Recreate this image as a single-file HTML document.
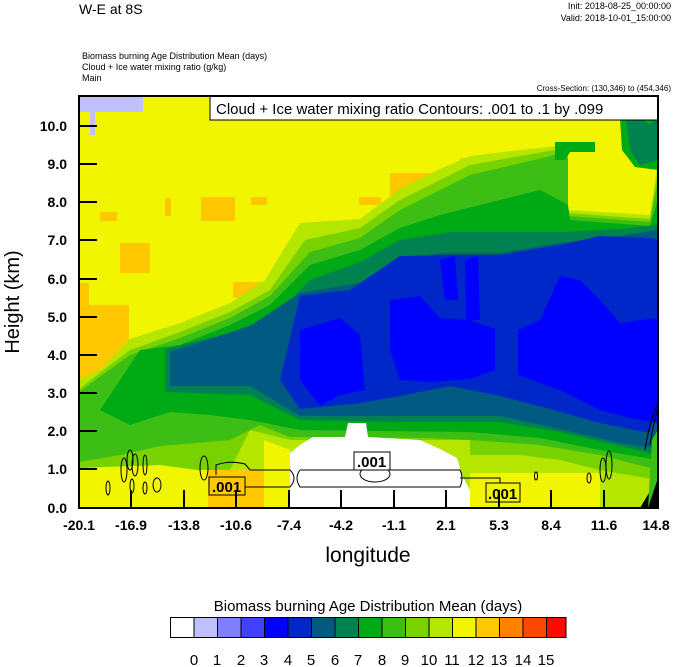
<!DOCTYPE html>
<html><head><meta charset="utf-8"><style>
body{margin:0;background:#fff;width:674px;height:667px;overflow:hidden}
svg{display:block;font-family:"Liberation Sans",Arial,sans-serif}
</style></head><body>
<svg width="674" height="667" viewBox="0 0 674 667" xmlns="http://www.w3.org/2000/svg">
<text x="79" y="14" font-size="14">W-E at 8S</text>
<text x="671" y="9" font-size="9" text-anchor="end">Init: 2018-08-25_00:00:00</text>
<text x="671" y="21" font-size="9" text-anchor="end">Valid: 2018-10-01_15:00:00</text>
<text x="82" y="59" font-size="9">Biomass burning Age Distribution Mean   (days)</text>
<text x="82" y="70" font-size="9">Cloud + Ice water mixing ratio   (g/kg)</text>
<text x="82" y="81" font-size="9">Main</text>
<text x="671" y="91" font-size="8" text-anchor="end">Cross-Section: (130,346) to (454,346)</text>

<defs><clipPath id="pc"><rect x="79" y="96" width="579" height="412"/></clipPath></defs>
<g clip-path="url(#pc)">
<rect x="79" y="96" width="579" height="412" fill="#f2f500"/>
<g fill="#ffc800">
<rect x="79" y="283" width="10" height="96"/><rect x="79" y="305" width="50" height="80"/>
<rect x="120" y="243" width="30" height="30"/><rect x="165" y="198" width="6" height="18"/>
<rect x="100" y="212" width="17" height="9"/><rect x="201" y="197" width="34" height="24"/>
<rect x="251" y="197" width="16" height="8"/><rect x="233" y="282" width="43" height="16"/>
<rect x="390" y="173" width="42" height="23"/><rect x="460" y="158" width="50" height="8"/>
<rect x="468" y="158" width="10" height="32"/><rect x="359" y="197" width="22" height="8"/>
<rect x="208" y="469" width="56" height="40"/>
</g>
<rect x="79" y="96" width="64" height="16" fill="#c0c0ff"/><rect x="90" y="110" width="5" height="25" fill="#c0c0ff"/>
<path fill="#b4e600" d="M79,379 L100,370 L130,339 L180,323 L230,303 L265,280 L300,223 L360,219 L400,189 L440,169 L470,156 L555,146 L568,148 L568,210 L650,215 L658,160 L658,508 L600,508 L600,473 L470,473 L470,508 L290,508 L290,450 L264,440 L264,469 L197,469 L197,430 L79,470 Z"/>
<path fill="#78d200" d="M79,389 L130,350 L180,332 L230,312 L270,290 L305,240 L360,228 L400,200 L440,180 L470,165 L555,150 L568,152 L568,213 L650,219 L658,170 L658,480 L600,470 L560,460 L520,455 L470,455 L470,440 L290,440 L250,430 L230,470 L197,470 L160,465 L79,468 Z"/>
<path fill="#3cbe14" d="M79,392 L130,355 L180,338 L230,318 L270,296 L310,252 L360,238 L400,210 L440,190 L470,175 L555,155 L568,158 L568,216 L650,222 L658,180 L658,470 L600,455 L540,445 L470,440 L430,438 L290,437 L260,425 L230,440 L160,446 L120,455 L79,462 Z"/>
<path fill="#00aa14" d="M100,410 L140,350 L180,345 L230,325 L270,305 L310,265 L360,250 L400,228 L440,215 L480,205 L540,190 L568,205 L570,220 L650,226 L658,200 L658,460 L600,450 L540,438 L470,432 L300,430 L250,420 L210,415 L170,412 L130,425 Z"/>
<path fill="#008250" d="M165,349 L230,333 L275,315 L310,280 L360,262 L400,240 L450,232 L520,232 L560,232 L620,229 L658,225 L658,455 L620,446 L560,432 L500,422 L400,422 L300,420 L250,395 L165,392 Z"/>
<path fill="#005a82" d="M170,352 L250,326 L300,293 L360,283 L400,263 L440,253 L500,253 L560,243 L620,236 L658,230 L658,449 L620,443 L560,429 L500,416 L400,416 L300,416 L250,386 L170,386 Z"/>
<path fill="#008250" d="M625,270 L645,258 L658,255 L658,320 L640,322 L625,310 Z"/>
<path fill="#0028c8" d="M300,296 L350,290 L400,256 L450,255 L500,255 L560,245 L600,236 L650,238 L658,240 L658,396 L650,433 L600,423 L550,409 L500,396 L450,386 L400,396 L360,403 L300,409 L280,380 Z"/>
<g fill="#0000ff">
<path d="M300,330 L340,318 L360,335 L365,390 L340,395 L320,406 L300,380 Z"/>
<path d="M390,300 L420,296 L440,318 L470,320 L495,329 L495,370 L470,379 L430,382 L400,380 L390,350 Z"/>
<path d="M440,260 L455,256 L458,300 L445,300 Z"/><path d="M465,260 L478,256 L480,320 L466,320 Z"/>
<path d="M518,330 L540,320 L560,276 L580,280 L600,300 L620,323 L640,320 L658,318 L658,423 L630,418 L600,410 L560,390 L518,375 Z"/>
<rect x="341" y="345" width="9" height="25"/>
</g>
<path fill="#00aa14" d="M620,118 L630,110 L658,108 L658,170 L635,167 L622,150 Z"/>
<path fill="#008250" d="M626,120 L640,118 L650,125 L658,115 L658,160 L640,165 L630,150 Z"/>
<path fill="#00aa14" d="M555,142 L595,142 L595,152 L570,152 L565,160 L555,160 Z"/>
<path fill="#fff" d="M290,508 L290,453 L300,445 L313,437 L345,437 L348,423 L366,423 L368,437 L420,440 L440,449 L457,458 L462,475 L470,490 L470,508 Z"/>
<path fill="#000" d="M640,508 L658,478 L658,508 Z"/>
<path fill="#3cbe14" d="M648,508 L652,440 L658,430 L658,478 Z"/>
</g>
<g fill="none" stroke="#000" stroke-width="1">
<ellipse cx="108" cy="488" rx="2" ry="7"/><ellipse cx="124" cy="470" rx="3" ry="12"/>
<ellipse cx="130" cy="460" rx="3" ry="10"/><ellipse cx="135" cy="465" rx="3" ry="11"/>
<ellipse cx="132" cy="486" rx="2" ry="7"/><ellipse cx="145" cy="465" rx="2" ry="10"/>
<ellipse cx="145" cy="488" rx="2" ry="6"/><ellipse cx="157" cy="485" rx="4" ry="7"/>
<ellipse cx="204" cy="468" rx="4" ry="12"/>
<path d="M216,475 L216,465 Q230,460 245,464 L250,470 L290,470 Q298,478 290,487 L245,487"/>
<path d="M300,470 L460,470 Q464,478 460,487 L300,487 Q294,478 300,470"/>
<path d="M460,478 L500,478 L500,490"/>
<ellipse cx="375" cy="474" rx="15" ry="8"/>
<ellipse cx="589" cy="478" rx="2" ry="5"/><ellipse cx="603" cy="470" rx="3" ry="12"/>
<ellipse cx="609" cy="465" rx="3" ry="14"/><ellipse cx="536" cy="476" rx="1.5" ry="4"/>
<path d="M645,450 Q650,420 657,405"/><path d="M650,445 Q654,420 658,408"/>
</g>
<g font-size="15" font-weight="bold">
<rect x="209" y="477" width="36" height="18" fill="#ffc800" stroke="#000"/><text x="212" y="492">.001</text>
<rect x="354" y="452" width="36" height="18" fill="#fff" stroke="#000"/><text x="357" y="467">.001</text>
<rect x="486" y="483" width="34" height="19" fill="#f2f500" stroke="#000"/><text x="488" y="499">.001</text>
</g>
<rect x="210" y="96" width="448" height="24" fill="#fff" stroke="#000"/>
<text x="216" y="114" font-size="15">Cloud + Ice water mixing ratio Contours: .001 to .1 by .099</text>
<rect x="79" y="96" width="579" height="412" fill="none" stroke="#000" stroke-width="2"/>
<g stroke="#000" stroke-width="2">
<path d="M79,126h18M79,164h18M79,202h18M79,240h18M79,279h18M79,317h18M79,355h18M79,393h18M79,431h18M79,469h18"/>
<path d="M131,508v-18M184,508v-18M236,508v-18M289,508v-18M341,508v-18M394,508v-18M446,508v-18M499,508v-18M551,508v-18M604,508v-18"/>
</g>
<g font-size="14" text-anchor="end" font-weight="bold">
<text x="67" y="131">10.0</text><text x="67" y="169">9.0</text><text x="67" y="207">8.0</text>
<text x="67" y="245">7.0</text><text x="67" y="284">6.0</text><text x="67" y="322">5.0</text>
<text x="67" y="360">4.0</text><text x="67" y="398">3.0</text><text x="67" y="436">2.0</text>
<text x="67" y="474">1.0</text><text x="67" y="513">0.0</text>
</g>
<g font-size="14" text-anchor="middle" font-weight="bold">
<text x="79" y="530">-20.1</text><text x="131" y="530">-16.9</text><text x="184" y="530">-13.8</text>
<text x="236" y="530">-10.6</text><text x="289" y="530">-7.4</text><text x="341" y="530">-4.2</text>
<text x="394" y="530">-1.1</text><text x="446" y="530">2.1</text><text x="499" y="530">5.3</text>
<text x="551" y="530">8.4</text><text x="604" y="530">11.6</text><text x="656" y="530">14.8</text>
</g>
<text x="368" y="562" font-size="21" text-anchor="middle">longitude</text>
<text transform="translate(19,302) rotate(-90)" font-size="20" text-anchor="middle">Height (km)</text>
<text x="368" y="611" font-size="15" text-anchor="middle">Biomass burning Age Distribution Mean  (days)</text>
<g stroke="#000" stroke-width="1">
<rect x="170.5" y="617.5" width="23.5" height="20" fill="#fff"/>
<rect x="194" y="617.5" width="23.5" height="20" fill="#c0c0ff"/>
<rect x="217.5" y="617.5" width="23.5" height="20" fill="#8080ff"/>
<rect x="241" y="617.5" width="23.5" height="20" fill="#4040ff"/>
<rect x="264.5" y="617.5" width="23.5" height="20" fill="#0000ff"/>
<rect x="288" y="617.5" width="23.5" height="20" fill="#0028c8"/>
<rect x="311.5" y="617.5" width="23.5" height="20" fill="#005a82"/>
<rect x="335" y="617.5" width="23.5" height="20" fill="#008250"/>
<rect x="358.5" y="617.5" width="23.5" height="20" fill="#00aa14"/>
<rect x="382" y="617.5" width="23.5" height="20" fill="#3cbe14"/>
<rect x="405.5" y="617.5" width="23.5" height="20" fill="#78d200"/>
<rect x="429" y="617.5" width="23.5" height="20" fill="#b4e600"/>
<rect x="452.5" y="617.5" width="23.5" height="20" fill="#f2f500"/>
<rect x="476" y="617.5" width="23.5" height="20" fill="#ffc800"/>
<rect x="499.5" y="617.5" width="23.5" height="20" fill="#ff8200"/>
<rect x="523" y="617.5" width="23.5" height="20" fill="#ff4600"/>
<rect x="546.5" y="617.5" width="19.5" height="20" fill="#ff0a00"/>
</g>
<g font-size="15" text-anchor="middle">
<text x="194" y="665">0</text><text x="217" y="665">1</text><text x="241" y="665">2</text>
<text x="264" y="665">3</text><text x="288" y="665">4</text><text x="311" y="665">5</text>
<text x="335" y="665">6</text><text x="358" y="665">7</text><text x="382" y="665">8</text>
<text x="405" y="665">9</text><text x="429" y="665">10</text><text x="452" y="665">11</text>
<text x="476" y="665">12</text><text x="499" y="665">13</text><text x="523" y="665">14</text>
<text x="546" y="665">15</text>
</g>
</svg>
</body></html>
